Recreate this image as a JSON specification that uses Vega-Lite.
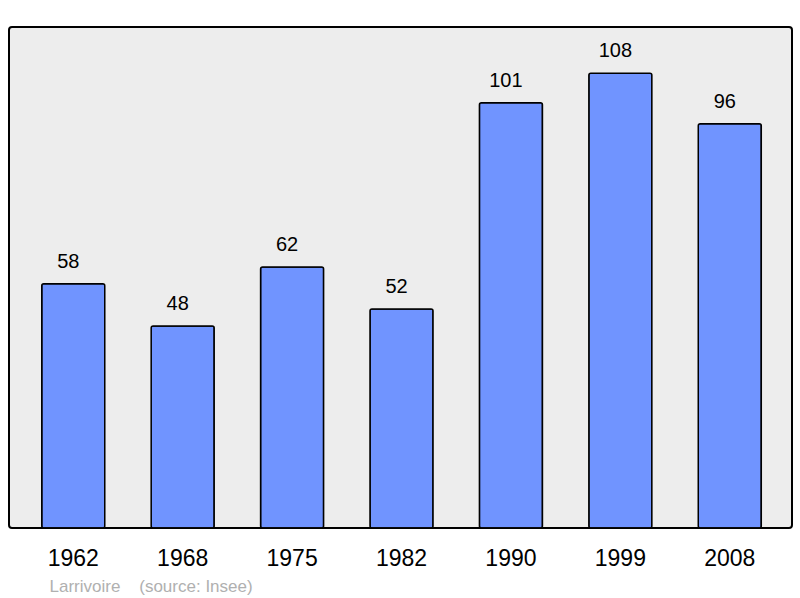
{
  "$schema": "https://vega.github.io/schema/vega-lite/v6.json",
  "width": 783,
  "height": 501,
  "autosize": {"type": "none"},
  "padding": {"left": 9, "top": 27, "right": 8, "bottom": 70},
  "background": "#ffffff",
  "config": {
    "view": {"fill": "#ededed", "stroke": "#000000", "strokeWidth": 2, "cornerRadius": 3},
    "font": "Liberation Sans"
  },
  "data": {
    "values": [
      {"year": "1962", "pop": 58},
      {"year": "1968", "pop": 48},
      {"year": "1975", "pop": 62},
      {"year": "1982", "pop": 52},
      {"year": "1990", "pop": 101},
      {"year": "1999", "pop": 108},
      {"year": "2008", "pop": 96}
    ]
  },
  "encoding": {
    "x": {
      "field": "year",
      "type": "ordinal",
      "sort": null,
      "scale": {"paddingInner": 0.424, "paddingOuter": 0.29, "align": 0.516},
      "axis": {
        "title": "Larrivoire\u00a0\u00a0\u00a0\u00a0(source: Insee)",
        "titleFont": "Liberation Sans",
        "titleFontSize": 17,
        "titleFontWeight": "normal",
        "titleColor": "#b0b0b0",
        "titleAnchor": "start",
        "titleAlign": "left",
        "titleBaseline": "alphabetic",
        "titleX": 40,
        "titleY": 63,
        "labelFont": "Liberation Sans",
        "labelFontSize": 23,
        "labelColor": "#000000",
        "labelBaseline": "alphabetic",
        "labelPadding": 37,
        "labelAngle": 0,
        "ticks": false,
        "tickSize": 0,
        "domain": false,
        "grid": false
      }
    },
    "y": {
      "field": "pop",
      "type": "quantitative",
      "scale": {"domain": [0, 119], "nice": false, "zero": true},
      "axis": null
    }
  },
  "layer": [
    {
      "mark": {"type": "bar", "fill": "#7094ff", "stroke": "#000000", "strokeWidth": 1.5, "cornerRadius": 2}
    },
    {
      "mark": {"type": "text", "dy": -16, "dx": -5, "baseline": "alphabetic", "fontSize": 20, "font": "Liberation Sans", "color": "#000000"},
      "encoding": {"text": {"field": "pop", "type": "quantitative"}}
    }
  ]
}
